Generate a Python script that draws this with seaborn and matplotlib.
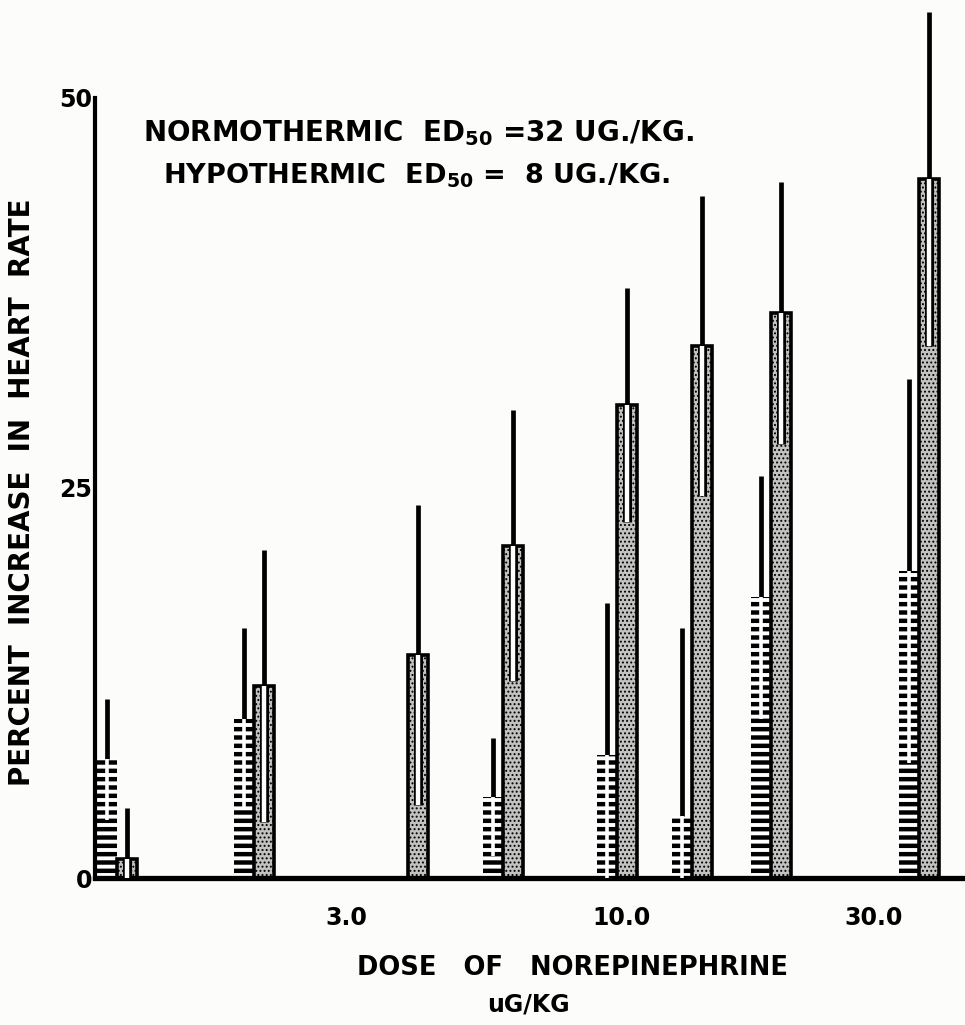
import numpy as np
import pandas as pd
import matplotlib
matplotlib.use("Agg")
import matplotlib.pyplot as plt
import seaborn as sns

# Dose of norepinephrine (ug/kg) for each pair of bars
doses = [1.1, 2.0, 3.92, 5.95, 9.8, 13.6, 19.2, 36.7]

# Mean percent increase in heart rate and its standard error
normo_mean = [7.6, 10.2, None, 5.2, 7.9, 4.0, 18.0, 19.7]
normo_se = [3.9, 5.8, None, 3.8, 9.7, 12.0, 7.8, 12.3]
hypo_mean = [1.2, 12.3, 14.3, 21.3, 30.3, 34.1, 36.2, 44.8]
hypo_se = [3.3, 8.7, 9.6, 8.7, 7.5, 9.6, 8.4, 10.7]

conditions = ["NORMOTHERMIC", "HYPOTHERMIC"]
x_ticks = [3.0, 10.0, 30.0]
x_tick_labels = ["3.0", "10.0", "30.0"]
y_ticks = [0, 25, 50]
y_tick_labels = ["0", "25", "50"]

rows = []
for cond, means, ses in [(conditions[0], normo_mean, normo_se),
                         (conditions[1], hypo_mean, hypo_se)]:
    for d, m, s in zip(doses, means, ses):
        if m is None:
            continue
        rows.append({"dose": d, "pct": m, "se": s, "condition": cond})
df = pd.DataFrame(rows)

sns.set_theme(style="white")
plt.rcParams["font.family"] = ["DejaVu Sans"]
plt.rcParams["mathtext.default"] = "bf"
plt.rcParams["hatch.linewidth"] = 3.0

fig = plt.figure(figsize=(9.65, 10.25), dpi=100)
fig.patch.set_facecolor("#fcfcfa")
ax = fig.add_axes([0.0984, 0.1434, 0.9016, 0.8566])
ax.set_facecolor("none")

# total width of a bar pair, in decades of dose
pair_width = 0.076
step = np.diff(np.log10(doses)).min()
sns.barplot(data=df, x="dose", y="pct", hue="condition", hue_order=conditions,
            native_scale=True, log_scale=(True, False), width=pair_width / step,
            errorbar=None, legend=False, orient="x", ax=ax)

ax.set_xlim(1.0, 44.8)
ax.set_ylim(0, 56.28)

normo_bars, hypo_bars = ax.containers[0], ax.containers[1]
for p in normo_bars:
    p.set_facecolor("white")
    p.set_edgecolor("black")
    p.set_linewidth(0)
    p.set_hatch("--")
    if hasattr(p, "set_hatch_linewidth"):
        p.set_hatch_linewidth(3.2)
for p in hypo_bars:
    p.set_facecolor("#c2c2c0")
    p.set_edgecolor("black")
    p.set_linewidth(2.6)
    p.set_hatch("....")
    if hasattr(p, "set_hatch_linewidth"):
        p.set_hatch_linewidth(0.9)

# error bars: black above the mean, a white slot inside the bar below it
for cond, bars in zip(conditions, [normo_bars, hypo_bars]):
    sub = df[df["condition"] == cond].sort_values("dose")
    for p, (_, r) in zip(bars, sub.iterrows()):
        x0 = p.get_x()
        xc = np.sqrt(x0 * (x0 + p.get_width()))
        m, s = r["pct"], r["se"]
        lo = max(m - s, 0)
        ax.vlines(xc, m, m + s, color="black", lw=3.4, zorder=4)
        if cond == conditions[1]:
            ax.vlines(xc, lo, m, color="black", lw=6.5, zorder=4)
            ax.vlines(xc, lo, m, color="white", lw=3.2, zorder=5)
        else:
            ax.vlines(xc, lo, m, color="white", lw=2.6, zorder=5)

for side in ["top", "right"]:
    ax.spines[side].set_visible(False)
ax.spines["left"].set_linewidth(3.0)
ax.spines["left"].set_color("black")
ax.spines["left"].set_bounds(0, 50)
ax.spines["bottom"].set_linewidth(3.8)
ax.spines["bottom"].set_color("black")

ax.set_xticks(x_ticks)
ax.set_xticklabels(x_tick_labels)
ax.xaxis.set_minor_locator(matplotlib.ticker.NullLocator())
ax.set_yticks(y_ticks)
ax.set_yticklabels(y_tick_labels)
ax.tick_params(axis="both", length=0, labelsize=17, labelcolor="black")
ax.tick_params(axis="x", pad=20)
ax.tick_params(axis="y", pad=2)
for t in ax.get_xticklabels() + ax.get_yticklabels():
    t.set_fontweight("bold")
ax.set_xlabel("")
ax.set_ylabel("")

txt = dict(color="black", fontweight="bold")
fig.text(0.148, 1 - 141 / 1025, "NORMOTHERMIC  ED$_{50}$ =32 UG./KG.",
         ha="left", va="baseline", fontsize=20, **txt)
fig.text(0.169, 1 - 184 / 1025, "HYPOTHERMIC  ED$_{50}$ =  8 UG./KG.",
         ha="left", va="baseline", fontsize=19.5, **txt)

fig.text(0.023, 1 - 492 / 1025, "PERCENT  INCREASE  IN  HEART  RATE", rotation=90,
         ha="center", va="center", fontsize=20, **txt)
fig.text(0.593, 1 - 968 / 1025, "DOSE   OF   NOREPINEPHRINE", ha="center", va="center",
         fontsize=18.5, **txt)
fig.text(0.548, 1 - 1012 / 1025, "uG/KG", ha="center", va="baseline",
         fontsize=17, **txt)

fig.savefig("out.png", dpi=100, facecolor=fig.get_facecolor())
